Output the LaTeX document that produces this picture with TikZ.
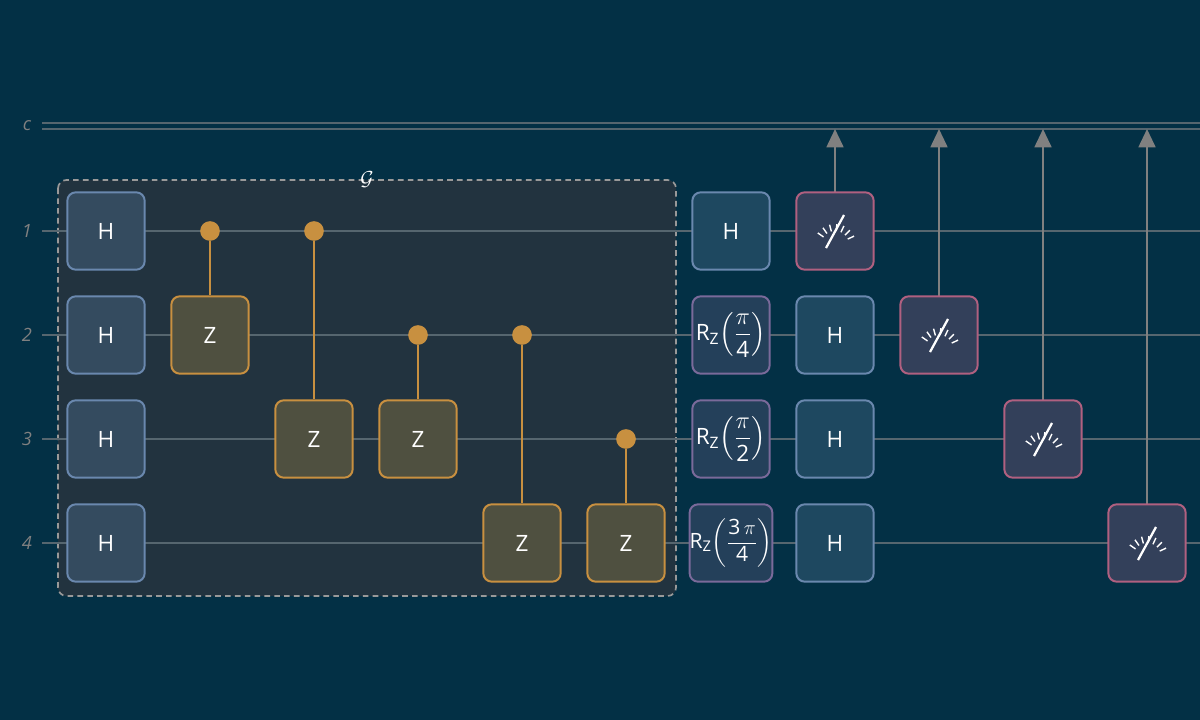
\documentclass[tikz,border=0pt]{standalone}
\usepackage{amsmath}
\usepackage{fontspec}
\setmainfont{Open Sans}
\usetikzlibrary{positioning,arrows.meta,calc}
\definecolor{bgc}{HTML}{033045}
\definecolor{wirec}{HTML}{56666F}
\definecolor{grpc}{HTML}{22333F}
\definecolor{hfill}{HTML}{344B5F}
\definecolor{hdraw}{HTML}{6A88AE}
\definecolor{zfill}{HTML}{4F5040}
\definecolor{zdraw}{HTML}{C89040}
\definecolor{rfill}{HTML}{24405A}
\definecolor{rdraw}{HTML}{7A6A9A}
\definecolor{hbfill}{HTML}{1E4860}
\definecolor{mfill}{HTML}{33405A}
\definecolor{mdraw}{HTML}{B06080}
\tikzset{
  gate/.style={draw=hdraw,fill=hfill,line width=1.4pt,rounded corners=6pt,minimum size=55pt,inner sep=0pt,text=white,font=\fontsize{16}{18}\selectfont},
  hgate/.style={gate,fill=hbfill},
  zgate/.style={gate,draw=zdraw,fill=zfill},
  rgate/.style={gate,draw=rdraw,fill=rfill},
  mgate/.style={gate,draw=mdraw,fill=mfill},
  ctrl/.style={circle,fill=zdraw,minimum size=14pt,inner sep=0pt},
  wire/.style={draw=wirec,line width=1.2pt},
  lbl/.style={text=gray,font=\fontsize{13}{15}\selectfont\itshape},
}
\newcommand{\meter}[1]{%
  \foreach \a in {-25,-45,...,-155}
    \draw[white,line width=1pt] ($(#1)+(\a:14)+(0,14)$) -- ($(#1)+(\a:21)+(0,14)$);
  \draw[white,line width=1.6pt] ($(#1)+(-9,17)$) -- ($(#1)+(9,-16)$);}
\begin{document}
\begin{tikzpicture}[x=0.025cm,y=-0.025cm]
  \fill[bgc] (0,0) rectangle (1200,720);
  \useasboundingbox (0,0) rectangle (1200,720);
  % group box
  \draw[gray!80,dash pattern=on 4pt off 3pt,line width=1.2pt,fill=grpc,rounded corners=6pt] (58,180) rectangle (676,596);
  \node[text=white,font=\fontsize{14}{16}\selectfont] (glbl) at (367,180) {$\mathcal{G}$};
  % wires
  \node[lbl] (lc) at (27,126) {c};
  \coordinate (cs) at (42,126);
  \coordinate (ce) at (1200,126);
  \draw[wirec,line width=1.2pt,double=bgc,double distance=3.5pt] (cs) -- (ce);
  \foreach \i/\y in {1/231,2/335,3/439,4/543}{
    \node[lbl] (l\i) at (27,\y) {\i};
    \coordinate (ws\i) at (42,\y);
    \coordinate (we\i) at (1200,\y);
    \draw[wire] (ws\i) -- (we\i);
  }
  % layer of H
  \foreach \i/\y in {1/231,2/335,3/439,4/543}
    \node[gate] (h\i) at (106,\y) {H};
  % controlled Z
  \foreach \n/\x/\cy/\ty in {a/210/231/335,b/314/231/439,c/418/335/439,d/522/335/543,e/626/439/543}{
    \node[ctrl] (c\n) at (\x,\cy) {};
    \node[zgate] (z\n) at (\x,\ty) {Z};
    \draw[zdraw,line width=1.4pt] (c\n) -- (z\n);
  }
  % rotations
  \node[hgate] (r1) at (731,231) {H};
  \node[rgate] (r2) at (731,335) {R\textsubscript{Z}$\left(\dfrac{\pi}{\mbox{4}}\right)$};
  \node[rgate] (r3) at (731,439) {R\textsubscript{Z}$\left(\dfrac{\pi}{\mbox{2}}\right)$};
  \node[rgate,font=\fontsize{15}{17}\selectfont] (r4) at (731,543) {R\textsubscript{Z}$\left(\dfrac{\mbox{3}\,\pi}{\mbox{4}}\right)$};
  \foreach \i/\y in {2/335,3/439,4/543}
    \node[hgate] (hb\i) at (835,\y) {H};
  % measurements
  \foreach \i/\x/\y in {1/835/231,2/939/335,3/1043/439,4/1147/543}{
    \coordinate (t\i) at (\x,129);
    \draw[gray,line width=1.5pt,-{Triangle[length=13pt,width=12pt]}] (\x,\y) -- (t\i);
    \node[mgate] (m\i) at (\x,\y) {};
    \meter{m\i}
  }
\end{tikzpicture}
\end{document}
